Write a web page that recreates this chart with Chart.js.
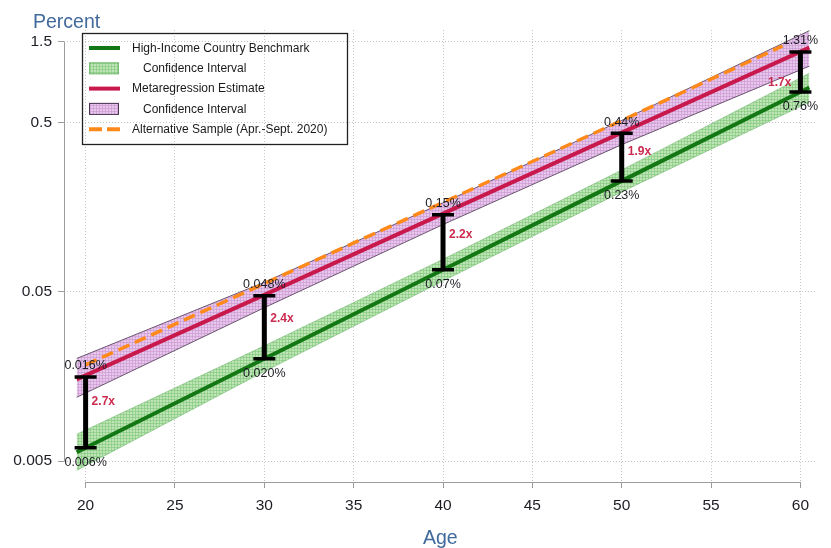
<!DOCTYPE html>
<html>
<head>
<meta charset="utf-8">
<script src="https://cdn.jsdelivr.net/npm/chart.js@4.4.1/dist/chart.umd.min.js"></script>
<style>
  html, body { margin: 0; padding: 0; background: #fff; }
  #wrap { width: 831px; height: 548px; }
</style>
</head>
<body>
<div id="wrap"><canvas id="ifrChart" width="831" height="548"></canvas></div>
<script>
var lineAges = [19.5, 30, 40, 50, 60.5];
var benchmark = [0.00564, 0.0201, 0.0675, 0.2265, 0.807];
var benchLow = [0.0044, 0.0169, 0.058, 0.195, 0.66];
var benchHigh = [0.0072, 0.024, 0.078, 0.263, 0.98];
var meta = [0.0152, 0.048, 0.145, 0.437, 1.39];
var metaLow = [0.0119, 0.0403, 0.125, 0.371, 1.08];
var metaHigh = [0.0202, 0.057, 0.168, 0.516, 1.75];

var altAges = [20, 30, 40, 50, 59];
var altSample = [0.0185, 0.056, 0.169, 0.515, 1.42];

// gap between the two estimates
var barAges = [20, 30, 40, 50, 60];
var barLow = [0.006, 0.0201, 0.0675, 0.2265, 0.76];
var barHigh = [0.0157, 0.0475, 0.143, 0.433, 1.31];
var lowLabels = ['0.006%', '0.020%', '0.07%', '0.23%', '0.76%'];
var highLabels = ['0.016%', '0.048%', '0.15%', '0.44%', '1.31%'];
var ratioLabels = ['2.7x', '2.4x', '2.2x', '1.9x', '1.7x'];

var xTicks = [20, 25, 30, 35, 40, 45, 50, 55, 60];
var yTicks = [0.005, 0.05, 0.5, 1.5];
var yTickLabels = ['0.005', '0.05', '0.5', '1.5'];

var FONT = '"Liberation Sans", Arial, sans-serif';
Chart.defaults.font.family = FONT;

var canvas = document.getElementById('ifrChart');
var ctx = canvas.getContext('2d');

function pts(xs, ys) {
  return xs.map(function (x, i) { return { x: x, y: ys[i] }; });
}

// faint cross-hatched fill like the original bands
function hatch(base, lines) {
  var c = document.createElement('canvas');
  c.width = 3; c.height = 3;
  var g = c.getContext('2d');
  g.fillStyle = base; g.fillRect(0, 0, 3, 3);
  g.fillStyle = lines; g.fillRect(0, 0, 3, 1); g.fillRect(0, 0, 1, 3);
  return ctx.createPattern(c, 'repeat');
}

var greenFill = hatch('rgba(150,212,140,0.62)', 'rgba(130,200,122,0.62)');
var purpleFill = hatch('rgba(218,170,222,0.65)', 'rgba(205,152,212,0.65)');

var stems = [];
var caps = [];
barAges.forEach(function (a, i) {
  stems.push({ x: a, y: barLow[i] }, { x: a, y: barHigh[i] }, { x: a, y: null });
  caps.push({ x: a, y: barLow[i] }, { x: a, y: barHigh[i] });
});

var datasets = [
  { label: 'Confidence Interval', data: pts(lineAges, benchHigh), borderColor: 'rgba(70,160,70,0.55)',
    borderWidth: 0.7, backgroundColor: greenFill, fill: '+1', pointRadius: 0, order: 90 },
  { label: '', data: pts(lineAges, benchLow), borderColor: 'rgba(70,160,70,0.55)',
    borderWidth: 0.7, fill: false, pointRadius: 0, order: 89 },
  { label: 'High-Income Country Benchmark', data: pts(lineAges, benchmark), borderColor: '#137813',
    borderWidth: 4, fill: false, pointRadius: 0, order: 80 },
  { label: 'Confidence Interval', data: pts(lineAges, metaHigh), borderColor: '#4a3450',
    borderWidth: 0.8, backgroundColor: purpleFill, fill: '+1', pointRadius: 0, order: 70 },
  { label: '', data: pts(lineAges, metaLow), borderColor: '#4a3450',
    borderWidth: 0.8, fill: false, pointRadius: 0, order: 69 },
  { label: 'Metaregression Estimate', data: pts(lineAges, meta), borderColor: '#c8184c',
    borderWidth: 4, fill: false, pointRadius: 0, order: 60 },
  { label: 'Alternative Sample (Apr.-Sept. 2020)', data: pts(altAges, altSample), borderColor: '#ff8a1a',
    borderWidth: 3.5, borderDash: [12, 6], fill: false, pointRadius: 0, order: 50 },
  { label: '', data: stems, borderColor: '#000', borderWidth: 5, spanGaps: false,
    fill: false, pointRadius: 0, order: 40 },
  { label: '', data: caps, showLine: false, pointStyle: 'line', pointRadius: 11,
    pointBorderWidth: 3.5, pointBorderColor: '#000', order: 30 }
];

// legend rows: dataset index and how to draw the key
var legendRows = [[2, 'line'], [0, 'box'], [5, 'line'], [3, 'box'], [6, 'dash']];

var decorations = {
  id: 'decorations',
  afterDatasetsDraw: function (chart) {
    var c = chart.ctx, xs = chart.scales.x, ys = chart.scales.y;
    c.save();
    c.textBaseline = 'middle';
    c.textAlign = 'center';
    c.font = '12.5px ' + FONT;
    c.fillStyle = '#1c1c24';
    barAges.forEach(function (a, i) {
      var px = xs.getPixelForValue(a);
      c.fillText(highLabels[i], px, ys.getPixelForValue(barHigh[i]) - 11);
      c.fillText(lowLabels[i], px, ys.getPixelForValue(barLow[i]) + 15);
    });
    c.font = 'bold 12px ' + FONT;
    c.fillStyle = '#cc2a4e';
    barAges.forEach(function (a, i) {
      var px = xs.getPixelForValue(a);
      var py = ys.getPixelForValue((barLow[i] + barHigh[i]) / 2);
      if (i === barAges.length - 1) {
        c.textAlign = 'right';
        c.fillText(ratioLabels[i], px - 9, py + 13);
      } else {
        c.textAlign = 'left';
        c.fillText(ratioLabels[i], px + 6, py - 2);
      }
    });
    c.restore();
  },
  afterDraw: function (chart) {
    var c = chart.ctx, xs = chart.scales.x, ys = chart.scales.y, area = chart.chartArea;
    c.save();
    // axis lines, only over the tick range
    c.strokeStyle = '#9c9c9c';
    c.lineWidth = 1;
    c.beginPath();
    c.moveTo(area.left + 0.5, ys.getPixelForValue(yTicks[yTicks.length - 1]));
    c.lineTo(area.left + 0.5, ys.getPixelForValue(yTicks[0]));
    c.moveTo(xs.getPixelForValue(xTicks[0]), area.bottom + 0.5);
    c.lineTo(xs.getPixelForValue(xTicks[xTicks.length - 1]), area.bottom + 0.5);
    c.stroke();

    // y title at top left
    c.font = '19.5px ' + FONT;
    c.fillStyle = '#40699c';
    c.textBaseline = 'alphabetic';
    c.textAlign = 'left';
    c.fillText('Percent', 33, 28);

    // legend
    var lx = 82, ly = 33, lw = 265, lh = 111;
    c.strokeStyle = '#222';
    c.lineWidth = 1.3;
    c.strokeRect(lx + 0.5, ly + 0.5, lw, lh);
    c.font = '12px ' + FONT;
    c.fillStyle = '#1a1a1a';
    c.textBaseline = 'middle';
    legendRows.forEach(function (row, k) {
      var ds = chart.data.datasets[row[0]];
      var y = ly + 15 + k * 20.3;
      var tx = 132;
      c.save();
      if (row[1] === 'box') {
        c.fillStyle = ds.backgroundColor;
        c.fillRect(89, y - 6, 30, 12);
        c.strokeStyle = ds.borderColor;
        c.lineWidth = 1;
        c.strokeRect(89.5, y - 5.5, 29, 11);
        tx = 143;
      } else {
        c.strokeStyle = ds.borderColor;
        c.lineWidth = 4;
        if (row[1] === 'dash') c.setLineDash([13, 5]);
        c.beginPath();
        c.moveTo(89, y);
        c.lineTo(120, y);
        c.stroke();
      }
      c.restore();
      c.fillText(ds.label, tx, y + 0.5);
    });
    c.restore();
  }
};

var config = {
  type: 'line',
  data: { datasets: datasets },
  options: {
    responsive: false,
    animation: false,
    layout: { padding: { top: 30, right: 1, left: 0, bottom: 0 } },
    plugins: { legend: { display: false }, tooltip: { enabled: false } },
    elements: { line: { tension: 0 } },
    scales: {
      x: {
        type: 'linear',
        min: 18.79,
        max: 60.9,
        offset: false,
        afterBuildTicks: function (scale) {
          scale.ticks = xTicks.map(function (v) { return { value: v }; });
        },
        afterFit: function (scale) { scale.height = 66; },
        ticks: { autoSkip: false, maxRotation: 0, padding: 8, color: '#1c1c24', font: { size: 15.5 } },
        grid: { color: '#c4c4c4', lineWidth: 1, tickLength: 6, tickColor: '#9c9c9c', tickBorderDash: [], offset: false },
        border: { display: false, dash: [1, 2] },
        title: { display: true, text: 'Age', color: '#40699c', font: { size: 19.5, lineHeight: 1 }, padding: { top: 0, bottom: 0 } }
      },
      y: {
        type: 'logarithmic',
        min: 0.003758,
        max: 1.766,
        afterBuildTicks: function (scale) {
          scale.ticks = yTicks.map(function (v) { return { value: v }; });
        },
        afterFit: function (scale) { scale.width = 64; },
        ticks: {
          padding: 6,
          color: '#1c1c24',
          font: { size: 15.5 },
          callback: function (value) { return yTickLabels[yTicks.indexOf(value)]; }
        },
        grid: { color: '#c4c4c4', lineWidth: 1, tickLength: 6, tickColor: '#9c9c9c', tickBorderDash: [] },
        border: { display: false, dash: [1, 2] }
      }
    }
  },
  plugins: [decorations]
};

var chart = new Chart(canvas, config);
</script>
</body>
</html>
